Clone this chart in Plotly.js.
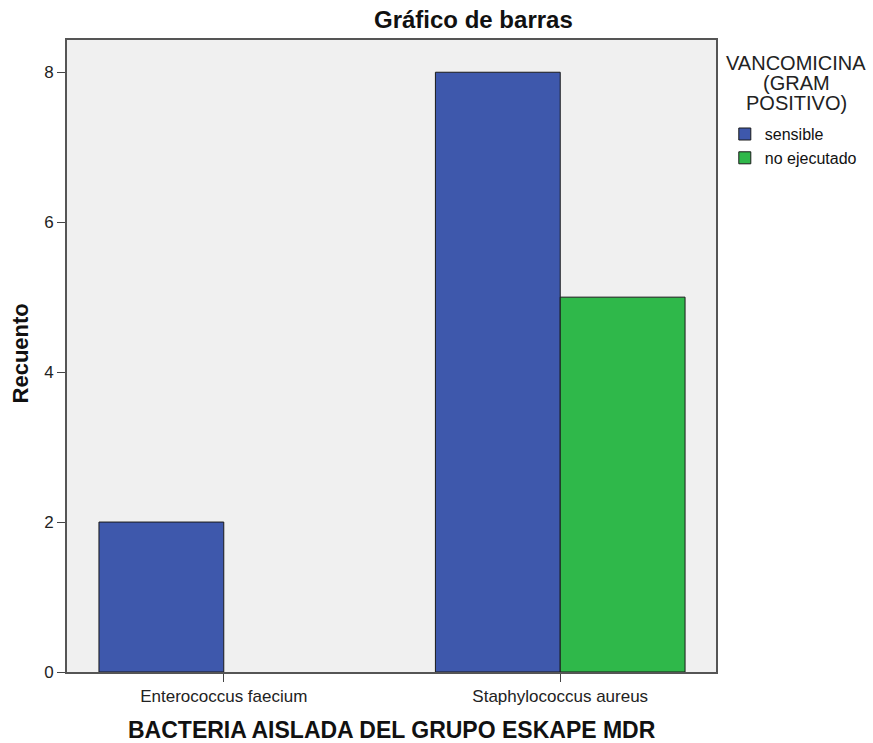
<!DOCTYPE html>
<html><head><meta charset="utf-8">
<script src="https://cdn.plot.ly/plotly-3.0.1.min.js"></script>
<style>body{margin:0;background:#fff}#chart{width:873px;height:743px}</style>
</head><body><div id="chart"></div>
<script>
const categories = ["Enterococcus faecium", "Staphylococcus aureus"];
const sensible = [2, 8];
const noEjecutado = [null, 5];
const seriesNames = ["sensible", "no ejecutado"];
const legendTitleLines = ["VANCOMICINA", "(GRAM", "POSITIVO)"];

const traces = [
  {type:"bar", x:categories, y:sensible, name:seriesNames[0],
   marker:{color:"#3e58ac", line:{color:"#1a1a1a", width:1}}},
  {type:"bar", x:categories, y:noEjecutado, name:seriesNames[1],
   marker:{color:"#2fb84a", line:{color:"#1a1a1a", width:1}}}
];

const annotations = [
  {text:"<b>Gráfico de barras</b>", xref:"paper", yref:"paper", x:0.626, y:1, yshift:21,
   xanchor:"center", yanchor:"middle", showarrow:false, font:{size:24, color:"#111"}},
  {text:"<b>BACTERIA AISLADA DEL GRUPO ESKAPE MDR</b>", xref:"paper", yref:"paper", x:0.5, y:0, yshift:-58,
   xanchor:"center", yanchor:"middle", showarrow:false, font:{size:23, color:"#111"}},
  {text:"<b>Recuento</b>", xref:"paper", yref:"paper", x:0, xshift:-47, y:0.504,
   xanchor:"center", yanchor:"middle", textangle:-90, showarrow:false, font:{size:22, color:"#111"}}
];
legendTitleLines.forEach((t, i) => annotations.push(
  {text:t, xref:"paper", yref:"paper", x:1.124, y:1, yshift:-23 - 20*i,
   xanchor:"center", yanchor:"middle", showarrow:false, font:{size:20, color:"#222"}}));

const layout = {
  width:873, height:743,
  margin:{l:67, r:156, t:40, b:71},
  paper_bgcolor:"#ffffff", plot_bgcolor:"#f0f0f0",
  font:{family:"Liberation Sans, Arial, sans-serif", color:"#222"},
  barmode:"group", bargap:0.258, bargroupgap:0,
  showlegend:true,
  legend:{x:1.012, y:0.878, xanchor:"left", yanchor:"top", bgcolor:"rgba(0,0,0,0)",
          font:{size:16, color:"#111"}, itemwidth:30, tracegroupgap:0},
  xaxis:{type:"category", range:[-0.466, 1.463], showgrid:false, zeroline:false,
         showline:true, linecolor:"#555", linewidth:2, mirror:true,
         ticks:"outside", ticklen:8, tickcolor:"#444",
         tickfont:{size:17, color:"#222"}},
  yaxis:{range:[0, 8.43], tickvals:[0,2,4,6,8], showgrid:false, zeroline:false,
         showline:true, linecolor:"#555", linewidth:2, mirror:true,
         ticks:"outside", ticklen:8, tickcolor:"#444",
         tickfont:{size:17, color:"#222"}},
  annotations:annotations
};

Plotly.newPlot("chart", traces, layout, {displayModeBar:false});
</script></body></html>
